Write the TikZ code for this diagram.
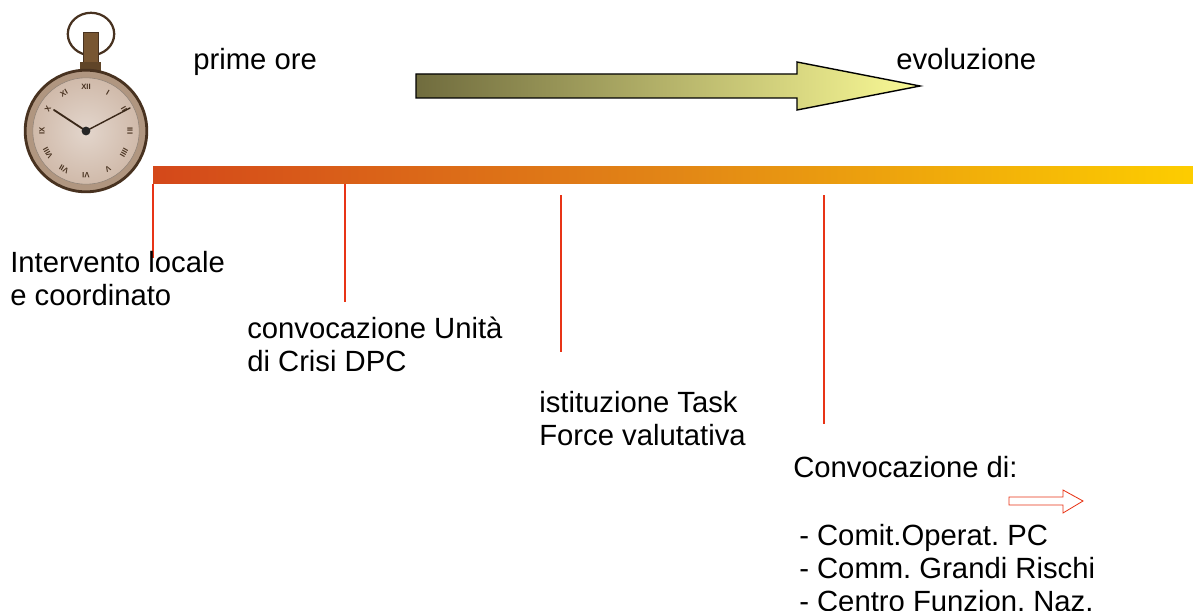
\documentclass[tikz,border=0pt]{standalone}
\usepackage{fontspec}
\setmainfont{Liberation Sans}
\usepackage{xcolor}
\usepackage{tikz}
\usetikzlibrary{shapes,calc,positioning}
\definecolor{barstart}{RGB}{212,72,26}
\definecolor{barmid}{RGB}{226,134,22}
\definecolor{barend}{RGB}{253,205,0}
\definecolor{olivedark}{RGB}{112,108,62}
\definecolor{paleyellow}{RGB}{250,250,150}
\definecolor{tickred}{RGB}{232,52,22}
\definecolor{watchrim}{RGB}{72,50,32}
\definecolor{watchface}{RGB}{208,186,170}
\definecolor{watchedge}{RGB}{176,150,128}
\definecolor{watchbrass}{RGB}{120,86,50}
\newcommand{\lblfont}{\fontsize{20.8}{23.4}\selectfont}
\frenchspacing

\begin{document}
\begin{tikzpicture}[x=0.025cm,y=-0.025cm,
    lbl/.style={anchor=base west,inner sep=0pt,align=left,font=\lblfont},
    tick/.style={draw=tickred,line width=1.4pt}]

  \useasboundingbox (0,0) rectangle (1193,611);

  % pocket watch
  	\coordinate (wc) at (86,131);
  	\draw[watchrim,line width=1.6pt] (91,34) ellipse (0.58cm and 0.53cm);
  	\draw[fill=watchbrass,draw=watchrim,line width=0.6pt] (83,32) rectangle (98,72);
  	\draw[fill=watchbrass!80!black,draw=none] (80,62) rectangle (101,72);
  	\draw[fill=watchedge,draw=watchrim,line width=2pt] (wc) circle (1.52cm);
  	\shade[inner color=watchface!60!white,outer color=watchface] (wc) circle (1.33cm);
  	\draw[watchrim!60,line width=0.4pt] (wc) circle (1.33cm);
  	\foreach \h/\r in {0/XII,1/I,2/II,3/III,4/IIII,5/V,6/VI,7/VII,8/VIII,9/IX,10/X,11/XI}
  	  \node[font=\fontsize{5.5}{5.5}\selectfont\bfseries,text=watchrim,inner sep=0pt,rotate=-30*\h]
  	    at ([shift={(-90+30*\h:44)}]wc) {\r};
  	\draw[watchrim!80!black,line width=1.3pt,line cap=round] (wc) -- (54,110);
  	\draw[watchrim!80!black,line width=1pt,line cap=round] (wc) -- (130,108);
  	\fill[black!85] (wc) circle (0.11cm);

  % time bar
  	\shade[left color=barstart,right color=barend,middle color=barmid] (153,167) rectangle (1193,184);

  	\coordinate (a1) at (153,184);
  	\coordinate (b1) at (153,258);
  	\coordinate (a2) at (345,184);
  	\coordinate (b2) at (345,302);
  	\coordinate (a3) at (561,195);
  	\coordinate (b3) at (561,352);
  	\coordinate (a4) at (824,195);
  	\coordinate (b4) at (824,424);

  	\draw[tick] (a1) -- (b1);
  	\draw[tick] (a2) -- (b2);
  	\draw[tick] (a3) -- (b3);
  	\draw[tick] (a4) -- (b4);

  % evolution arrow
  	\shade[left color=olivedark,right color=paleyellow,draw=black,line width=1pt,line join=miter]
  	  (416,74) -- (797,74) -- (797,62) -- (920,86) -- (797,110) -- (797,98) -- (416,98) -- cycle;

  	\node[lbl] (prime) at (193,70) {prime ore};
  	\node[lbl] (evol) at (896,70) {evoluzione};

  % labels of the steps (base = last line)
  	\node[lbl] (locale) at (10,305) {Intervento locale\\e coordinato};
  	\node[lbl] (crisi) at (247,371) {convocazione Unità\\di Crisi DPC};
  	\node[lbl] (task) at (539,445) {istituzione Task\\Force valutativa};
  	\node[lbl] (conv) at (793,477) {Convocazione di:};

  	\draw[draw=tickred,fill=white,line width=0.6pt]
  	  (1009,497) -- (1063,497) -- (1063,490) -- (1083,501) -- (1063,513) -- (1063,505) -- (1009,505) -- cycle;

  	\node[lbl] (lista) at (799,611) {- Comit.Operat. PC\\- Comm. Grandi Rischi\\- Centro Funzion. Naz.};

\end{tikzpicture}
\end{document}
